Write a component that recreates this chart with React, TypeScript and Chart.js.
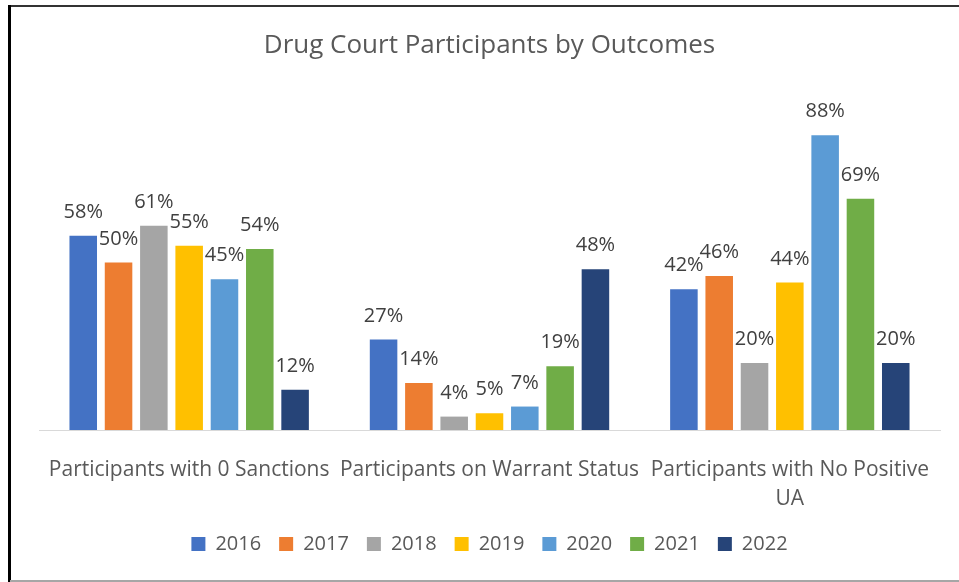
import React, { useEffect, useRef } from "react";
import { Chart, registerables } from "chart.js";

Chart.register(...registerables);

const categories: (string | string[])[] = [
  "Participants with 0 Sanctions",
  "Participants on Warrant Status",
  ["Participants with No Positive", "UA"],
];

const years = ["2016", "2017", "2018", "2019", "2020", "2021", "2022"];

const values2016 = [58, 27, 42];
const values2017 = [50, 14, 46];
const values2018 = [61, 4, 20];
const values2019 = [55, 5, 44];
const values2020 = [45, 7, 88];
const values2021 = [54, 19, 69];
const values2022 = [12, 48, 20];

const seriesValues = [values2016, values2017, values2018, values2019, values2020, values2021, values2022];
const seriesColors = ["#4472C4", "#ED7D31", "#A5A5A5", "#FFC000", "#5B9BD5", "#70AD47", "#264478"];

const FONT = "'Open Sans', 'Liberation Sans', sans-serif";

const dataLabelPlugin = {
  id: "dataLabels",
  afterDatasetsDraw(chart: any) {
    const ctx = chart.ctx;
    ctx.save();
    ctx.font = `20px ${FONT}`;
    ctx.fillStyle = "#404040";
    ctx.textAlign = "center";
    ctx.textBaseline = "alphabetic";
    chart.data.datasets.forEach((ds: any, i: number) => {
      const meta = chart.getDatasetMeta(i);
      meta.data.forEach((el: any, j: number) => {
        ctx.fillText(`${ds.data[j]}%`, el.x, el.y - 18);
      });
    });
    ctx.restore();
  },
};

export default function App() {
  const canvasRef = useRef<HTMLCanvasElement | null>(null);

  useEffect(() => {
    if (!canvasRef.current) return;
    const chart = new Chart(canvasRef.current, {
      type: "bar",
      data: {
        labels: categories,
        datasets: years.map((y, i) => ({
          label: y,
          data: seriesValues[i],
          backgroundColor: seriesColors[i],
          borderWidth: 0,
          categoryPercentage: 0.823,
          barPercentage: 0.78,
        })),
      },
      options: {
        responsive: false,
        animation: false,
        devicePixelRatio: 1,
        layout: { padding: { top: 0, left: 39, right: 19, bottom: 18 } },
        plugins: {
          tooltip: { enabled: false },
          title: {
            display: true,
            text: "Drug Court Participants by Outcomes",
            color: "#595959",
            font: { family: FONT, size: 26, weight: "normal", lineHeight: 1.2 },
            padding: { top: 30.4, bottom: 33.4 },
          },
          legend: {
            position: "bottom",
            labels: {
              boxWidth: 14,
              boxHeight: 14,
              padding: 18,
              color: "#595959",
              font: { family: FONT, size: 20 },
            },
          },
        },
        scales: {
          x: {
            grid: { display: false },
            border: { display: true, color: "#D9D9D9", width: 1 },
            ticks: {
              color: "#595959",
              padding: 18,
              maxRotation: 0,
              autoSkip: false,
              font: { family: FONT, size: 21, lineHeight: 1.38 },
            },
            afterFit: (scale: any) => {
              scale.height = 86;
            },
          },
          y: {
            display: false,
            min: 0,
            max: 100,
          },
        },
      },
      plugins: [dataLabelPlugin],
    });
    return () => chart.destroy();
  }, []);

  return (
    <div style={{ position: "fixed", left: 0, top: 0, width: 959, height: 582, background: "#fff", overflow: "hidden" }}>
      <canvas ref={canvasRef} width={959} height={582} style={{ position: "absolute", left: 0, top: 0, width: 959, height: 582 }} />
      <div style={{ position: "absolute", left: 8, top: 5, width: 951, height: 2, background: "#333" }} />
      <div style={{ position: "absolute", left: 8, top: 5, width: 3, height: 577, background: "#000" }} />
      <div style={{ position: "absolute", left: 10, top: 580, width: 949, height: 2, background: "#A6A6A6" }} />
    </div>
  );
}
